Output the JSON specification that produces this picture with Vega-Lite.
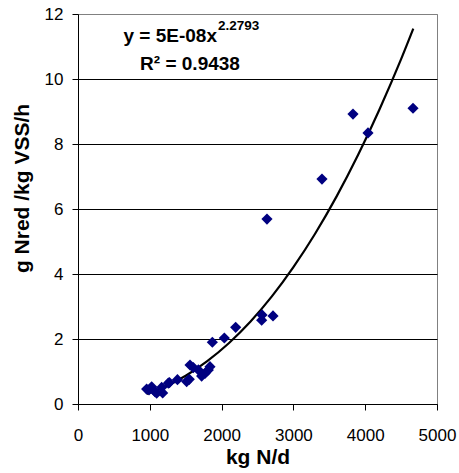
{
  "$schema": "https://vega.github.io/schema/vega-lite/v6.json",
  "width": 359,
  "height": 390,
  "autosize": "none",
  "padding": {"left": 78, "top": 14, "right": 22, "bottom": 69},
  "config": {
    "font": "Liberation Sans",
    "view": {"stroke": "#808080", "strokeWidth": 1},
    "axis": {"labelColor": "black", "titleColor": "black", "domainColor": "black", "tickColor": "black", "labelFontSize": 17, "titleFontSize": 21, "titleFontWeight": "bold", "tickSize": 6, "labelFlush": false}
  },
  "datasets": {
    "obs": [
      {"x": 956, "y": 0.46},
      {"x": 989, "y": 0.43},
      {"x": 1026, "y": 0.53},
      {"x": 1072, "y": 0.38},
      {"x": 1096, "y": 0.33},
      {"x": 1165, "y": 0.51},
      {"x": 1179, "y": 0.34},
      {"x": 1258, "y": 0.64},
      {"x": 1273, "y": 0.66},
      {"x": 1385, "y": 0.75},
      {"x": 1513, "y": 0.69},
      {"x": 1550, "y": 0.76},
      {"x": 1560, "y": 1.2},
      {"x": 1606, "y": 1.12},
      {"x": 1676, "y": 1.05},
      {"x": 1722, "y": 0.86},
      {"x": 1769, "y": 0.94},
      {"x": 1815, "y": 1.05},
      {"x": 1838, "y": 1.15},
      {"x": 1871, "y": 1.9},
      {"x": 2038, "y": 2.03},
      {"x": 2196, "y": 2.36},
      {"x": 2558, "y": 2.58},
      {"x": 2563, "y": 2.74},
      {"x": 2716, "y": 2.71},
      {"x": 2632, "y": 5.69},
      {"x": 3398, "y": 6.92},
      {"x": 3830, "y": 8.92},
      {"x": 4039, "y": 8.34},
      {"x": 4666, "y": 9.1}
    ],
    "trend": [
      {"x": 960, "y": 0.31},
      {"x": 1200, "y": 0.52},
      {"x": 1500, "y": 0.87},
      {"x": 1800, "y": 1.32},
      {"x": 2100, "y": 1.87},
      {"x": 2400, "y": 2.53},
      {"x": 2700, "y": 3.31},
      {"x": 3000, "y": 4.21},
      {"x": 3300, "y": 5.23},
      {"x": 3600, "y": 6.38},
      {"x": 3900, "y": 7.66},
      {"x": 4200, "y": 9.07},
      {"x": 4500, "y": 10.61},
      {"x": 4670, "y": 11.55}
    ]
  },
  "layer": [
    {
      "data": {"name": "trend"},
      "mark": {"type": "line", "color": "black", "strokeWidth": 2.2, "interpolate": "monotone"},
      "encoding": {
        "x": {"field": "x", "type": "quantitative", "scale": {"domain": [0, 5000], "nice": false},
          "axis": {"values": [0, 1000, 2000, 3000, 4000, 5000], "format": "d", "grid": false, "title": "kg N/d", "labelPadding": 17, "titlePadding": 3}},
        "y": {"field": "y", "type": "quantitative", "scale": {"domain": [0, 12], "nice": false},
          "axis": {"values": [0, 2, 4, 6, 8, 10, 12], "grid": true, "gridColor": {"condition": {"test": "datum.value === 12", "value": "#808080"}, "value": "black"}, "gridOpacity": 1, "labelPadding": 9, "title": "g Nred /kg VSS/h", "titleX": -50, "titleY": 174, "titleBaseline": "alphabetic"}}
      }
    },
    {
      "data": {"name": "obs"},
      "mark": {"type": "point", "shape": "diamond", "filled": true, "color": "#000080", "opacity": 1, "size": 125},
      "encoding": {
        "x": {"field": "x", "type": "quantitative"},
        "y": {"field": "y", "type": "quantitative"}
      }
    },
    {
      "data": {"values": [{"t": "y = 5E-08x"}]},
      "mark": {"type": "text", "align": "right", "baseline": "alphabetic", "fontSize": 19, "fontWeight": "bold", "color": "black"},
      "encoding": {"x": {"datum": 1936}, "y": {"datum": 11.14}, "text": {"field": "t"}}
    },
    {
      "data": {"values": [{"t": "2.2793"}]},
      "mark": {"type": "text", "align": "left", "baseline": "alphabetic", "fontSize": 13.5, "fontWeight": "bold", "color": "black"},
      "encoding": {"x": {"datum": 1950}, "y": {"datum": 11.51}, "text": {"field": "t"}}
    },
    {
      "data": {"values": [{"t": "R² = 0.9438"}]},
      "mark": {"type": "text", "align": "center", "baseline": "alphabetic", "fontSize": 19, "fontWeight": "bold", "color": "black"},
      "encoding": {"x": {"datum": 1560}, "y": {"datum": 10.28}, "text": {"field": "t"}}
    }
  ]
}
